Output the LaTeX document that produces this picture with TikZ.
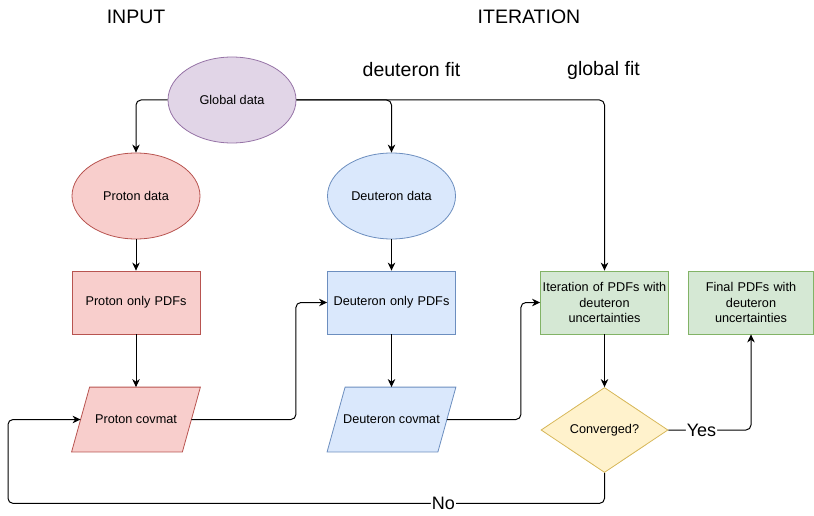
\documentclass[tikz,border=0pt]{standalone}
\usepackage{fontspec}
\setmainfont{Liberation Sans}
\usetikzlibrary{shapes.geometric,arrows.meta,calc,backgrounds}
\definecolor{purF}{HTML}{E1D5E7}\definecolor{purD}{HTML}{9673A6}
\definecolor{redF}{HTML}{F8CECC}\definecolor{redD}{HTML}{B85450}
\definecolor{bluF}{HTML}{DAE8FC}\definecolor{bluD}{HTML}{6C8EBF}
\definecolor{grnF}{HTML}{D5E8D4}\definecolor{grnD}{HTML}{82B366}
\definecolor{ylwF}{HTML}{FFF2CC}\definecolor{ylwD}{HTML}{D6B656}
\begin{document}
\begin{tikzpicture}[x=1pt,y=-1pt,
  base/.style={font=\fontsize{12.7}{15.3}\selectfont, align=center, line width=0.8pt, inner sep=0pt},
  ell/.style={base, ellipse, minimum width=128pt, minimum height=86pt},
  boxn/.style={base, rectangle, minimum width=128pt, minimum height=63pt, text width=124pt},
  paran/.style={base, rectangle, minimum width=110pt, minimum height=64pt},
  dia/.style={base, diamond, minimum width=127pt, minimum height=85pt, fill=ylwF, draw=ylwD},
  redS/.style={fill=redF, draw=redD},
  bluS/.style={fill=bluF, draw=bluD},
  grnS/.style={fill=grnF, draw=grnD},
  head/.style={font=\fontsize{19.5}{23}\selectfont, inner sep=0pt},
  lbl/.style={font=\fontsize{18}{21}\selectfont, fill=white, inner sep=1pt},
  conn/.style={line width=1pt, rounded corners=5pt, -{Stealth[length=8pt,width=7.5pt,inset=2.5pt]}}
]
\useasboundingbox (0,0) rectangle (814,516);

\node[head] (tIn) at (136,17) {INPUT};
\node[head] (tIt) at (529,17) {ITERATION};
\node[head] (tDf) at (411.5,70) {deuteron fit};
\node[head] (tGf) at (603.5,70) {global fit};

\node[ell, fill=purF, draw=purD] (gd) at (232,100) {Global data};
\node[ell, redS] (pd) at (136,196) {Proton data};
\node[ell, bluS] (dd) at (391.5,196) {Deuteron data};

\node[boxn, redS] (pp) at (136,302.5) {Proton only PDFs};
\node[boxn, bluS] (dp) at (391.5,302.5) {Deuteron only PDFs};
\node[boxn, grnS] (it) at (604.5,302.5) {Iteration of PDFs with\\deuteron\\uncertainties};
\node[boxn, grnS, minimum width=125pt, text width=121pt] (fin) at (751,302.5) {Final PDFs with\\deuteron\\uncertainties};

\node[paran] (pc) at (136,419.5) {Proton covmat};
\node[paran] (dc) at (391.5,419.5) {Deuteron covmat};
\begin{scope}[on background layer]
  \draw[redS, line width=0.8pt] ($(pc.north west)+(9,0)$) -- ($(pc.north east)+(9,0)$) -- ($(pc.south east)+(-9,0)$) -- ($(pc.south west)+(-9,0)$) -- cycle;
  \draw[bluS, line width=0.8pt] ($(dc.north west)+(9,0)$) -- ($(dc.north east)+(9,0)$) -- ($(dc.south east)+(-9,0)$) -- ($(dc.south west)+(-9,0)$) -- cycle;
\end{scope}

\node[dia] (cv) at (604.5,430) {Converged?};

\draw[conn] (gd.west) -| (pd.north);
\draw[conn] (gd.east) -| (dd.north);
\draw[conn] (gd.east) -| (it.north);
\draw[conn] (pd.south) -- (pp.north);
\draw[conn] (pp.south) -- (pc.north);
\draw[conn] (dd.south) -- (dp.north);
\draw[conn] (dp.south) -- (dc.north);
\draw[conn] (it.south) -- (cv.north);
\draw[conn] (pc.east) -- ++(104.5,0) |- (dp.west);
\draw[conn] (dc.east) -- ++(74,0) |- (it.west);
\draw[conn] (cv.east) -| node[lbl, pos=0.2] {Yes} (fin.south);
\draw[conn] (cv.south) -- ++(0,30.5) -- node[lbl, pos=0.27] {No} ++(-596.5,0) |- (pc.west);
\end{tikzpicture}
\end{document}
